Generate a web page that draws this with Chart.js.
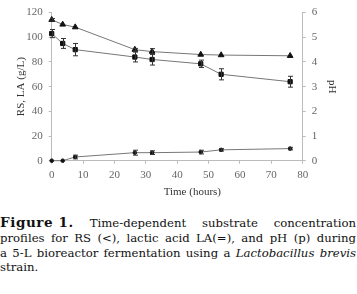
<!DOCTYPE html>
<html>
<head>
<meta charset="utf-8">
<script src="https://cdn.jsdelivr.net/npm/chart.js@4.4.1/dist/chart.umd.min.js"></script>
<style>
  html, body { margin: 0; padding: 0; background: #fff; }
  #wrap { position: relative; width: 357px; height: 200px; }
  .caption {
    position: absolute; left: 0; top: 215px; width: 356px;
    font-family: "DejaVu Serif"; font-size: 11.7px; color: #111;
    line-height: 14.8px;
  }
  .caption div { text-align: justify; text-align-last: justify; white-space: nowrap; }
  .caption div.last { text-align-last: left; }
  .caption b { display: inline-block; font-size: 13.5px; letter-spacing: 0.6px; }
</style>
</head>
<body>
<div id="wrap"><canvas id="myChart" width="357" height="200"></canvas></div>
<div class="caption">
  <div><b>Figure 1.</b> Time-dependent substrate concentration</div>
  <div>profiles for RS (&lt;), lactic acid LA(=), and pH (p) during</div>
  <div>a 5-L bioreactor fermentation using a <i>Lactobacillus brevis</i></div>
  <div class="last">strain.</div>
</div>
<script>
// sampling times (hours)
const hours = [0, 3.5, 7.5, 26.5, 32, 47.5, 54, 76];

// reducing sugar RS (g/L)
const rsValues = [103, 95, 90, 84, 82, 78.5, 70, 64];
const rsErr = [3.3, 4, 5, 4, 4.5, 3, 4.5, 4.4];

// lactic acid LA (g/L)
const laValues = [0, 0, 3, 6.5, 6.5, 7, 8.8, 9.8];
const laErr = [0, 0, 1.5, 2, 1.5, 1.5, 1, 1];

// pH
const phValues = [5.71, 5.52, 5.41, 4.5, 4.42, 4.3, 4.28, 4.25];
const phErr = [0.05, 0, 0, 0.05, 0.12, 0, 0, 0];

const xTicks = [0, 10, 20, 30, 40, 50, 60, 70, 80];
const leftTicks = [0, 20, 40, 60, 80, 100, 120];
const rightTicks = [0, 1, 2, 3, 4, 5, 6];

const toPoints = vals => hours.map((h, i) => ({ x: h, y: vals[i] }));

const errorBars = {
    id: 'errorBars',
    afterDatasetsDraw(chart) {
        const ctx = chart.ctx;
        chart.data.datasets.forEach(ds => {
            if (!ds.errors) return;
            const xs = chart.scales.x;
            const ys = chart.scales[ds.yAxisID];
            ctx.save();
            ctx.strokeStyle = '#333';
            ctx.lineWidth = 1;
            ds.data.forEach((p, i) => {
                const e = ds.errors[i];
                if (!e) return;
                const px = Math.round(xs.getPixelForValue(p.x)) + 0.5;
                const top = ys.getPixelForValue(p.y + e);
                const bot = ys.getPixelForValue(p.y - e);
                ctx.beginPath();
                ctx.moveTo(px, top); ctx.lineTo(px, bot);
                ctx.moveTo(px - 2.5, top); ctx.lineTo(px + 2.5, top);
                ctx.moveTo(px - 2.5, bot); ctx.lineTo(px + 2.5, bot);
                ctx.stroke();
            });
            ctx.restore();
        });
    }
};

const tickFont = { family: 'Liberation Serif', size: 11 };
const titleFont = { family: 'Liberation Serif', size: 11 };

const ctx = document.getElementById('myChart');
const chart = new Chart(ctx, {
    type: 'scatter',
    data: {
        datasets: [
            {
                label: 'pH',
                data: toPoints(phValues),
                errors: phErr,
                yAxisID: 'y1',
                showLine: true,
                clip: false,
                borderColor: '#777',
                borderWidth: 1,
                pointStyle: 'triangle',
                pointRadius: 3.3,
                backgroundColor: '#111',
                pointBorderColor: '#111'
            },
            {
                label: 'RS',
                data: toPoints(rsValues),
                errors: rsErr,
                yAxisID: 'y',
                showLine: true,
                clip: false,
                borderColor: '#777',
                borderWidth: 1,
                pointStyle: 'rect',
                pointRadius: 3,
                backgroundColor: '#111',
                pointBorderColor: '#111'
            },
            {
                label: 'LA',
                data: toPoints(laValues),
                errors: laErr,
                yAxisID: 'y',
                showLine: true,
                clip: false,
                borderColor: '#777',
                borderWidth: 1,
                pointStyle: 'circle',
                pointRadius: 1.8,
                backgroundColor: '#111',
                pointBorderColor: '#111'
            }
        ]
    },
    options: {
        responsive: false,
        animation: false,
        layout: { padding: { top: 10 } },
        plugins: { legend: { display: false }, tooltip: { enabled: false } },
        scales: {
            x: {
                type: 'linear',
                min: 0, max: 80,
                afterBuildTicks: s => { s.ticks = xTicks.map(v => ({ value: v })); },
                afterFit: s => { s.height = 39.3; },
                border: { display: true, color: '#bbb' },
                grid: { drawOnChartArea: false, drawTicks: true, tickLength: 3, color: '#bbb' },
                ticks: { font: tickFont, color: '#666', padding: 5, maxRotation: 0 },
                title: { display: true, text: ' '.repeat(11) + 'Time (hours)', font: titleFont, color: '#333', padding: { top: 0, bottom: 1.5 } }
            },
            y: {
                position: 'left',
                min: 0, max: 120,
                afterBuildTicks: s => { s.ticks = leftTicks.map(v => ({ value: v })); },
                afterFit: s => { s.width = 51.7; },
                border: { display: true, color: '#bbb' },
                grid: { drawOnChartArea: false, drawTicks: true, tickLength: 3, color: '#bbb' },
                ticks: { font: tickFont, color: '#666', padding: 6 },
                title: { display: true, text: 'RS, LA (g/L)', font: titleFont, color: '#333', padding: { top: 15, bottom: 0 } }
            },
            y1: {
                position: 'right',
                min: 0, max: 6,
                afterBuildTicks: s => { s.ticks = rightTicks.map(v => ({ value: v })); },
                afterFit: s => { s.width = 54.3; },
                border: { display: true, color: '#bbb' },
                grid: { drawOnChartArea: false, drawTicks: true, tickLength: 3, color: '#bbb' },
                ticks: { font: tickFont, color: '#666', padding: 6 },
                title: { display: true, text: 'pH', font: titleFont, color: '#333', padding: { top: 18.5, bottom: 0 } }
            }
        }
    },
    plugins: [errorBars]
});
</script>
</body>
</html>
